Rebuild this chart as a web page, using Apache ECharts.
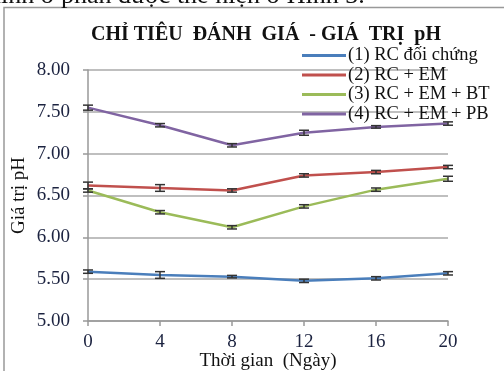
<!DOCTYPE html>
<html><head><meta charset="utf-8">
<script src="https://cdn.jsdelivr.net/npm/echarts@6/dist/echarts.min.js"></script>
<style>html,body{margin:0;padding:0;background:#fff}#c{width:504px;height:371px}</style>
</head><body><div id="c"></div>
<script>
const days = [0, 4, 8, 12, 16, 20];
const seriesNames = ['(1) RC đối chứng', '(2) RC + EM', '(3) RC + EM + BT', '(4) RC + EM + PB'];
const rc = [5.59, 5.55, 5.53, 5.48, 5.51, 5.57];
const rcEm = [6.62, 6.59, 6.56, 6.74, 6.78, 6.84];
const rcEmBt = [6.56, 6.30, 6.12, 6.37, 6.57, 6.70];
const rcEmPb = [7.55, 7.34, 7.10, 7.25, 7.32, 7.36];
const rcErr = [0.02, 0.04, 0.015, 0.02, 0.02, 0.02];
const rcEmErr = [0.04, 0.04, 0.02, 0.02, 0.02, 0.02];
const rcEmBtErr = [0.02, 0.02, 0.02, 0.02, 0.02, 0.03];
const rcEmPbErr = [0.03, 0.02, 0.02, 0.03, 0.015, 0.02];
const yTicks = [5, 5.5, 6, 6.5, 7, 7.5, 8];
const colors = ['#4a7ebb', '#c0504d', '#9bbb59', '#8064a2'];

const values = [rc, rcEm, rcEmBt, rcEmPb];
const errs = [rcErr, rcEmErr, rcEmBtErr, rcEmPbErr];
const serif = '"Liberation Serif", "Times New Roman", serif';

const lineSeries = values.map((v, i) => ({
  name: seriesNames[i], type: 'line', symbol: 'none', z: 3,
  data: days.map((d, k) => [d, v[k]]),
  lineStyle: { color: colors[i], width: 2.5 }, itemStyle: { color: colors[i] }
}));
const errSeries = values.map((v, i) => ({
  type: 'custom', z: 4, silent: true,
  data: days.map((d, k) => [d, v[k] - errs[i][k], v[k] + errs[i][k]]),
  renderItem: function (params, api) {
    const lo = api.coord([api.value(0), api.value(1)]);
    const hi = api.coord([api.value(0), api.value(2)]);
    const w = 5;
    const st = { stroke: '#333', lineWidth: 1.5 };
    return { type: 'group', children: [
      { type: 'line', shape: { x1: lo[0], y1: lo[1], x2: hi[0], y2: hi[1] }, style: st },
      { type: 'line', shape: { x1: lo[0] - w, y1: lo[1], x2: lo[0] + w, y2: lo[1] }, style: st },
      { type: 'line', shape: { x1: hi[0] - w, y1: hi[1], x2: hi[0] + w, y2: hi[1] }, style: st }
    ]};
  }
}));

const chart = echarts.init(document.getElementById('c'));
chart.setOption({
  animation: false,
  backgroundColor: '#fff',
  title: {
    text: 'CHỈ TIÊU  ĐÁNH  GIÁ  - GIÁ  TRỊ  pH', left: 261, top: 20, textAlign: 'center',
    textStyle: { fontFamily: serif, fontWeight: 'bold', fontSize: 20, color: '#111' }
  },
  graphic: [
    { type: 'rect', shape: { x: 4, y: 7.5, width: 520, height: 400 }, style: { fill: 'none', stroke: '#999', lineWidth: 1.5 }, silent: true },
    { type: 'text', x: -12, y: -17, style: { text: 'hình ở phần được thể hiện ở Hình 3.', font: '26px ' + serif, fill: '#111' } }
  ],
  legend: {
    orient: 'vertical', left: 302, top: 46, padding: 0, itemWidth: 44, itemHeight: 12, itemGap: 0.5,
    icon: 'path://M0,0 L44,0 L44,3 L0,3 Z',
    data: seriesNames.map((n, i) => ({ name: n, itemStyle: { color: colors[i] } })),
    itemStyle: { borderWidth: 0 },
    textStyle: { fontFamily: serif, fontSize: 18.5, lineHeight: 18, color: '#111', padding: [0, 0, 0, -3] }
  },
  grid: { left: 88, right: 56, top: 70, bottom: 50, outerBoundsMode: 'none', containLabel: false },
  xAxis: {
    type: 'value', min: 0, max: 20, interval: 4,
    name: 'Thời gian  (Ngày)', nameLocation: 'middle', nameGap: 31, nameMoveOverlap: false,
    nameTextStyle: { fontFamily: serif, fontSize: 19, color: '#111' },
    axisLine: { lineStyle: { color: '#999', width: 1.5 } },
    axisTick: { show: true, length: 5, lineStyle: { color: '#999', width: 1.5 } },
    splitLine: { show: false },
    axisLabel: { fontFamily: serif, fontSize: 19, color: '#1c2340', margin: 12 }
  },
  yAxis: {
    type: 'value', min: yTicks[0], max: yTicks[yTicks.length - 1], interval: 0.5,
    name: 'Giá trị pH', nameLocation: 'middle', nameGap: 59, nameRotate: 90, nameMoveOverlap: false,
    nameTextStyle: { fontFamily: serif, fontSize: 19, color: '#111' },
    axisLine: { show: true, lineStyle: { color: '#999', width: 1.5 } },
    axisTick: { show: true, length: 5, lineStyle: { color: '#999', width: 1.5 } },
    splitLine: { lineStyle: { color: '#aaa', width: 1.5 } },
    axisLabel: { fontFamily: serif, fontSize: 19, color: '#1c2340', margin: 18, formatter: v => v.toFixed(2) }
  },
  series: lineSeries.concat(errSeries)
});
</script></body></html>
